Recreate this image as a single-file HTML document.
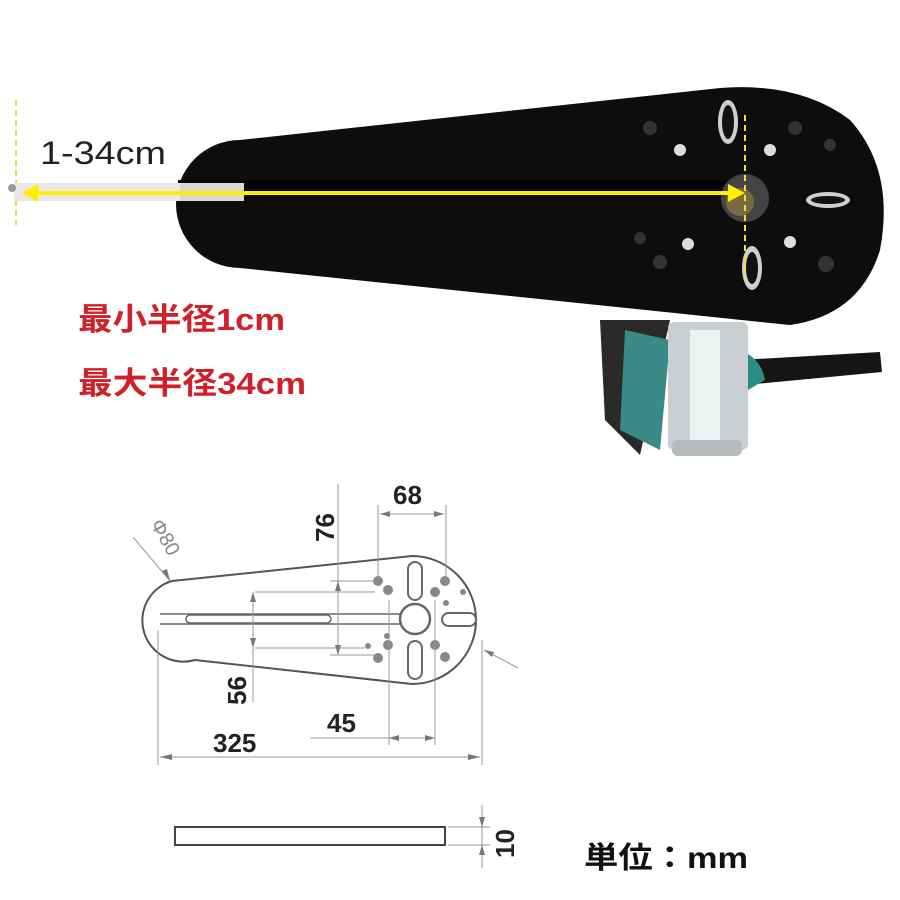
<!DOCTYPE html>
<html><head><meta charset="utf-8"><style>
html,body{margin:0;padding:0;background:#fff}
svg{display:block}
text{font-family:"Liberation Sans","Noto Sans CJK JP",sans-serif}
</style></head><body>
<svg width="900" height="900" viewBox="0 0 900 900" xmlns="http://www.w3.org/2000/svg">
<rect width="900" height="900" fill="#fff"/>
<path d="M600 320 L605 420 L640 455 L670 320 Z" fill="#2a2a2a"/>
<path d="M625 330 L620 430 L660 450 L670 340 Z" fill="#3a8a88"/>
<path d="M740 360 L880 352 L882 372 L745 385 Z" fill="#151515"/>
<path d="M720 345 Q760 350 765 380 L748 390 L730 380 Z" fill="#2f8a86"/>
<rect x="668" y="322" width="80" height="128" rx="6" fill="#c9cfd0"/>
<rect x="690" y="330" width="30" height="110" fill="#eef1f1"/>
<rect x="672" y="440" width="70" height="16" rx="6" fill="#b5bbbc"/>
<path d="M240 140 L720 88 Q800 82 850 120 Q895 170 880 250 Q860 315 790 325 L240 268 A64 64 0 0 1 240 140 Z" fill="#0d0d0d"/>
<rect x="178" y="180" width="560" height="14" fill="#050505"/>
<g>
<ellipse cx="728" cy="122" rx="10" ry="22" fill="#cfcfcf"/>
<ellipse cx="728" cy="122" rx="6" ry="17" fill="#111"/>
<ellipse cx="828" cy="200" rx="22" ry="8" fill="#cfcfcf"/>
<ellipse cx="828" cy="200" rx="17" ry="4" fill="#111"/>
<ellipse cx="752" cy="268" rx="10" ry="22" fill="#cfcfcf"/>
<ellipse cx="752" cy="268" rx="6" ry="16" fill="#111"/>
<circle cx="745" cy="198" r="24" fill="#444"/>
<circle cx="740" cy="202" r="14" fill="#7a6a40"/>
<circle cx="680" cy="150" r="6" fill="#ddd"/><circle cx="770" cy="150" r="6" fill="#ddd"/>
<circle cx="688" cy="244" r="6" fill="#ddd"/><circle cx="790" cy="242" r="6" fill="#ddd"/>
<circle cx="650" cy="128" r="7" fill="#333"/><circle cx="795" cy="128" r="7" fill="#333"/>
<circle cx="830" cy="145" r="6" fill="#333"/><circle cx="640" cy="238" r="6" fill="#333"/>
<circle cx="660" cy="262" r="7" fill="#333"/><circle cx="826" cy="264" r="8" fill="#333"/>
</g>
<line x1="16" y1="100" x2="16" y2="225" stroke="#e8d84a" stroke-width="2" stroke-dasharray="6,4"/>
<line x1="745" y1="115" x2="745" y2="285" stroke="#f0e040" stroke-width="2" stroke-dasharray="6,4"/>
<rect x="14" y="183" width="230" height="18" fill="#e8e8e8"/>
<rect x="180" y="183" width="64" height="18" fill="#d8d8d8"/>
<line x1="28" y1="193" x2="735" y2="193" stroke="#ffee00" stroke-width="4"/>
<polygon points="22,193 38,184 38,202" fill="#ffee00"/>
<polygon points="745,193 728,184 728,202" fill="#ffee00"/>
<circle cx="12" cy="188" r="4" fill="#999"/>
<text x="40" y="164" font-family="Liberation Mono,monospace" font-size="32" fill="#222" textLength="126" lengthAdjust="spacingAndGlyphs">1-34cm</text>
<text x="78" y="330" font-size="31" font-weight="bold" fill="#d0202a" textLength="207" lengthAdjust="spacingAndGlyphs">最小半径1cm</text>
<text x="78" y="394" font-size="31" font-weight="bold" fill="#d0202a" textLength="228" lengthAdjust="spacingAndGlyphs">最大半径34cm</text>

<g fill="none" stroke="#666" stroke-width="1.5">
<path d="M172 581 L412 556 A64 64 0 0 1 412 684 L195 660 A40 40 0 0 1 172 581 Z" stroke="#555" stroke-width="2"/>
<line x1="160" y1="614" x2="400" y2="614"/>
<line x1="160" y1="624" x2="400" y2="624"/>
<rect x="186" y="615" width="145" height="8" rx="4"/>
<circle cx="415" cy="619" r="15" stroke-width="2.5"/>
<rect x="408" y="562" width="14" height="38" rx="7" stroke-width="2"/>
<rect x="408" y="641" width="14" height="38" rx="7" stroke-width="2"/>
<rect x="442" y="613" width="34" height="13" rx="6.5" stroke-width="2"/>
</g>
<g fill="#888">
<circle cx="378" cy="581" r="5"/><circle cx="388" cy="590" r="5"/>
<circle cx="445" cy="581" r="5"/><circle cx="435" cy="592" r="5"/>
<circle cx="463" cy="592" r="3"/><circle cx="446" cy="603" r="3"/>
<circle cx="388" cy="645" r="5"/><circle cx="378" cy="658" r="5"/>
<circle cx="435" cy="645" r="5"/><circle cx="445" cy="657" r="5"/>
<circle cx="368" cy="646" r="3"/><circle cx="387" cy="636" r="3"/>
</g>
<g stroke="#999" stroke-width="1" fill="none">
<line x1="378" y1="505" x2="378" y2="580"/>
<line x1="446" y1="505" x2="446" y2="580"/>
<line x1="380" y1="514" x2="444" y2="514"/>
<line x1="338" y1="484" x2="338" y2="655"/>
<line x1="330" y1="581" x2="375" y2="581"/>
<line x1="330" y1="655" x2="375" y2="655"/>
<line x1="255" y1="592" x2="375" y2="592"/>
<line x1="255" y1="648" x2="365" y2="648"/>
<line x1="253" y1="592" x2="253" y2="702"/>
<line x1="389" y1="600" x2="389" y2="745"/>
<line x1="435" y1="600" x2="435" y2="745"/>
<line x1="310" y1="738" x2="435" y2="738"/>
<line x1="158" y1="630" x2="158" y2="765"/>
<line x1="482" y1="640" x2="482" y2="765"/>
<line x1="160" y1="757" x2="480" y2="757"/>
<line x1="133" y1="537" x2="170" y2="581"/>
<line x1="484" y1="650" x2="518" y2="668"/>
</g>
<g fill="#777">
<polygon points="380,514 390,511 390,517"/><polygon points="444,514 434,511 434,517"/>
<polygon points="338,581 335,591 341,591"/><polygon points="338,655 335,645 341,645"/>
<polygon points="253,592 250,602 256,602"/><polygon points="253,648 250,638 256,638"/>
<polygon points="389,738 399,735 399,741"/><polygon points="435,738 425,735 425,741"/>
<polygon points="160,757 172,754 172,760"/><polygon points="480,757 468,754 468,760"/>
<polygon points="170,581 162,571 167,569"/><polygon points="484,650 494,652 492,657"/>
</g>
<g font-size="26" font-weight="bold" fill="#222">
<text x="393" y="504">68</text>
<text transform="translate(334,542) rotate(-90)">76</text>
<text transform="translate(246,705) rotate(-90)">56</text>
<text x="327" y="732">45</text>
<text x="213" y="752">325</text>
</g>
<text transform="translate(150,524) rotate(60)" font-size="20" fill="#888">Φ80</text>
<rect x="175" y="827" width="270" height="18" fill="#fff" stroke="#444" stroke-width="2"/>
<g stroke="#999" stroke-width="1">
<line x1="448" y1="827" x2="490" y2="827"/><line x1="448" y1="845" x2="490" y2="845"/>
<line x1="482" y1="805" x2="482" y2="868"/>
</g>
<polygon points="482,827 479,817 485,817" fill="#777"/>
<polygon points="482,845 479,855 485,855" fill="#777"/>
<text transform="translate(514,858) rotate(-90)" font-size="26" font-weight="bold" fill="#222">10</text>
<text x="584" y="868" font-size="30" font-weight="bold" fill="#111" textLength="164" lengthAdjust="spacingAndGlyphs">単位：mm</text>
</svg>
</body></html>
